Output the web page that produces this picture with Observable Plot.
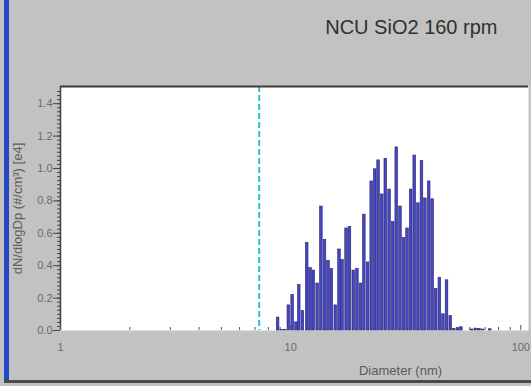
<!DOCTYPE html>
<html>
<head>
<meta charset="utf-8">
<script src="https://cdn.jsdelivr.net/npm/d3@7"></script>
<script src="https://cdn.jsdelivr.net/npm/@observablehq/plot@0.6"></script>
<style>
  html, body { margin: 0; padding: 0; background: #ffffff; }
  #wrap { position: relative; width: 531px; height: 386px; overflow: hidden; }
  #wrap svg { display: block; }
  .strip { position: absolute; left: 4px; top: 0; width: 5px; height: 382px; background: #2446c4; }
  .base { position: absolute; left: 4px; top: 380px; width: 527px; height: 3px; background: #4a4a4a; }
</style>
</head>
<body>
<div id="wrap"></div>
<script>
// SMPS channel midpoint diameters (nm), 64 channels per decade
const diameters = [
  8.82, 9.14, 9.47, 9.82, 10.2, 10.6, 10.9, 11.3, 11.8, 12.2, 12.6, 13.1,
  13.6, 14.1, 14.6, 15.1, 15.7, 16.3, 16.8, 17.5, 18.1, 18.8, 19.5, 20.2,
  20.9, 21.7, 22.5, 23.3, 24.1, 25.0, 25.9, 26.9, 27.9, 28.9, 30.0, 31.1,
  32.2, 33.4, 34.6, 35.9, 37.2, 38.5, 40.0, 41.4, 42.9, 44.5, 46.1, 47.8,
  49.6, 51.4, 53.3, 55.2, 57.3, 59.4, 61.5, 63.8, 66.1, 68.5, 71.0, 73.7
];
// dN/dlogDp per channel (#/cm³, ×1e4)
const concentration = [
  0.08, 0.004, 0.004, 0.155, 0.22, 0.05, 0.28, 0.12, 0.54, 0.385, 0.37, 0.29,
  0.765, 0.56, 0.43, 0.38, 0.155, 0.50, 0.435, 0.63, 0.64, 0.37, 0.38, 0.29,
  0.715, 0.42, 0.92, 0.995, 1.05, 0.84, 1.06, 0.87, 0.67, 1.13, 0.765, 0.57,
  0.63, 0.87, 1.08, 0.785, 1.045, 0.815, 0.92, 0.81, 0.255, 0.325, 0.10, 0.31,
  0.09, 0.01, 0.015, 0.02, 0.0, 0.0, 0.006, 0.012, 0.01, 0.006, 0.0, 0.008
];
// lower size cut shown as a dashed marker (nm)
const cutoff = [7.3];

const yTicks = [0, 0.2, 0.4, 0.6, 0.8, 1.0, 1.2, 1.4];
const xTicks = [1, 10, 100];
const xMinor = [2, 3, 4, 5, 6, 7, 8, 9, 20, 30, 40, 50, 60, 70, 80, 90];
const yMinor = d3.range(0, 1.5, 0.025);

const title = "NCU SiO2 160 rpm";
const xLabel = "Diameter (nm)";
const yLabel = "dN/dlogDp (#/cm³) [e4]";

const yMax = 1.506;
const half = Math.pow(10, 1 / 128); // half a channel width in log space

const rows = diameters.map((d, i) => ({d, n: concentration[i]}));

const chart = Plot.plot({
  width: 531,
  height: 386,
  marginLeft: 60,
  marginRight: 3,
  marginTop: 86,
  marginBottom: 56,
  style: {background: "#c2c2c2", fontFamily: "'Liberation Sans', Arial, sans-serif", color: "#5a5a5a", overflow: "visible"},
  x: {type: "log", domain: [1, 108]},
  y: {domain: [0, yMax]},
  marks: [
    Plot.frame({fill: "white", stroke: null}),
    Plot.rectY(rows, {
      x1: d => d.d / half,
      x2: d => d.d * half,
      y: "n",
      fill: "#4747c6",
      stroke: "#23236e",
      strokeWidth: 0.6,
      insetLeft: 0.5,
      insetRight: 0.5
    }),
    Plot.ruleX(cutoff, {stroke: "#2cc0c6", strokeWidth: 2, strokeDasharray: "6,3"}),
    // frame edges
    Plot.ruleX([1], {stroke: "#3c3c3c", strokeWidth: 1.5}),
    Plot.ruleY([yMax], {stroke: "#3c3c3c", strokeWidth: 2}),
    // y axis: title, minor ticks, labelled ticks
    Plot.axisY(yTicks, {
      tickSize: 0, tickFormat: () => "", fontSize: 13, fill: "#5e5e5e",
      label: yLabel, labelAnchor: "center", labelArrow: "none", labelOffset: 48
    }),
    Plot.axisY(yMinor, {tickSize: 3, tickFormat: () => "", label: null, stroke: "#444"}),
    Plot.axisY(yTicks, {
      tickSize: 7, tickPadding: 1, tickFormat: d => d.toFixed(1),
      fontSize: 11, fill: "#6a6a6a", stroke: "#444", label: null
    }),
    // x axis, ticks drawn inward
    Plot.axisX(xMinor, {tickSize: -3, tickFormat: () => "", label: null, stroke: "#555"}),
    Plot.axisX(xTicks, {tickSize: -5, tickPadding: 18, tickFormat: d => String(d), label: null, fontSize: 11, fill: "#6a6a6a", stroke: "#555"}),
    // texts
    Plot.text([title], {frameAnchor: "top-right", textAnchor: "end", dx: -31, dy: -67, fontSize: 20, fill: "#303030"}),
    Plot.text([xLabel], {frameAnchor: "bottom", dx: 106, dy: 44, fontSize: 13, fill: "#5a5a5a"})
  ]
});

const wrap = document.getElementById("wrap");
wrap.appendChild(chart);
const strip = document.createElement("div"); strip.className = "strip"; wrap.appendChild(strip);
const base = document.createElement("div"); base.className = "base"; wrap.appendChild(base);
</script>
</body>
</html>
